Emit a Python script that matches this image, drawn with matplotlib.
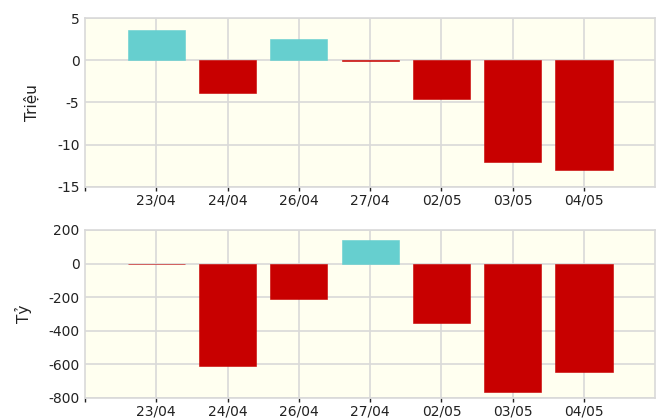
import matplotlib.pyplot as plt
import numpy as np

plt.rcParams['font.family'] = ['DejaVu Sans']
plt.rcParams['axes.unicode_minus'] = False

dates = ["23/04", "24/04", "26/04", "27/04", "02/05", "03/05", "04/05"]
volume = [3.6, -3.9, 2.5, -0.1, -4.6, -12.1, -13.0]        # Triệu
value = [-5, -610, -212, 141, -353, -763, -647]              # Tỷ

up_color = "#66cfcf"
down_color = "#c80000"
bg = "#fffff0"
grid_color = "#d9d9d9"

fig = plt.figure(figsize=(6.57, 4.2), dpi=100)
ax1 = fig.add_axes([0.1294, 0.555, 0.868, 0.402])
ax2 = fig.add_axes([0.1294, 0.0524, 0.868, 0.4])


def draw(ax, vals, ylim, yticks, ylabel):
    x = np.arange(len(vals))
    colors = [up_color if v > 0 else down_color for v in vals]
    ax.bar(x, vals, width=0.8, color=colors, edgecolor=colors, linewidth=0.4, zorder=3)
    ax.set_facecolor(bg)
    ax.set_xlim(-1, len(vals))
    ax.set_ylim(*ylim)
    ax.set_yticks(yticks)
    ax.set_xticks(list(x))
    ax.set_xticklabels(dates)
    ax.set_xticks([-1], minor=True)
    ax.grid(True, color=grid_color, linewidth=1.2, zorder=0)
    for s in ax.spines.values():
        s.set_color(grid_color)
        s.set_linewidth(1.2)
    ax.tick_params(axis='x', which='both', length=3, width=1, color='#222222',
                   labelsize=10, labelcolor='#222222', pad=2)
    ax.tick_params(axis='y', length=0, labelsize=10, labelcolor='#222222', pad=4)
    ax.set_ylabel(ylabel, fontsize=11, color='#222222', labelpad=12)
    ax.set_axisbelow(True)


draw(ax1, volume, (-15, 5), [-15, -10, -5, 0, 5], "Triệu")
draw(ax2, value, (-800, 200), [-800, -600, -400, -200, 0, 200], "Tỷ")

fig.savefig("out.png", dpi=100)
